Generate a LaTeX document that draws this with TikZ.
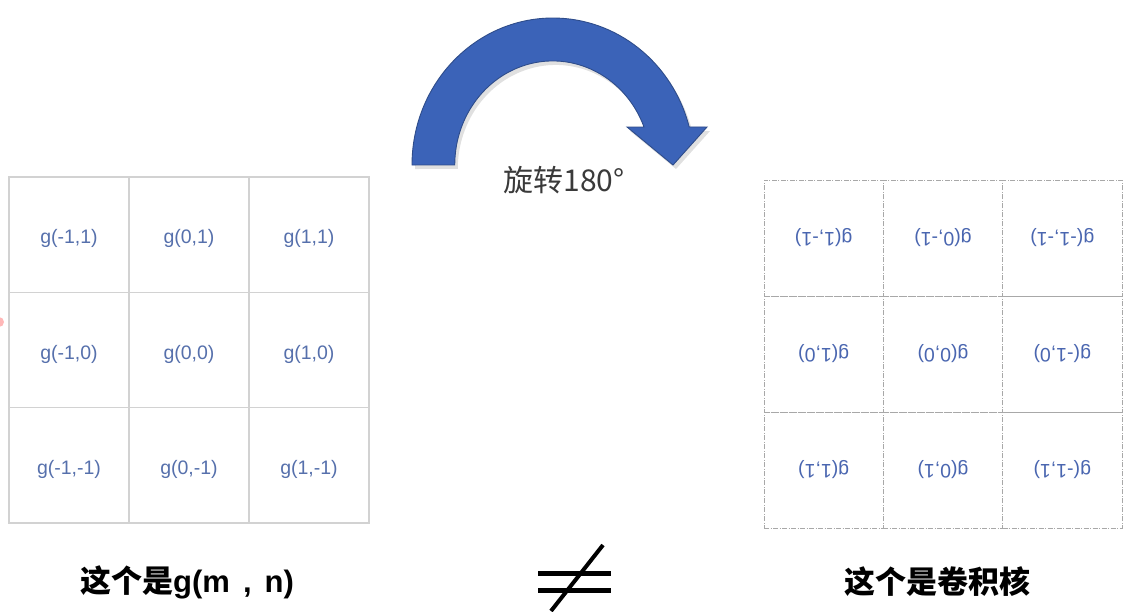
\documentclass[tikz,border=0pt]{standalone}
\usepackage{fontspec}
\setmainfont{Noto Sans CJK SC}
\newfontfamily\latinsans{Liberation Sans}
\definecolor{gridgray}{HTML}{D2D2D2}
\definecolor{dashgray}{HTML}{A8A8A8}
\definecolor{gtext}{HTML}{5670AC}
\definecolor{rtext}{HTML}{4A66B0}
\definecolor{arrowblue}{HTML}{3B63B8}
\definecolor{arrowedge}{HTML}{2E4C8A}
\definecolor{captext}{HTML}{3A3A3A}
\begin{document}
\begin{tikzpicture}[x=1pt,y=-1pt,
  lcell/.style={draw=gridgray, line width=1.2pt, minimum width=120pt, minimum height=115.3pt,
    inner sep=0pt},
  ltext/.style={inner sep=0pt, text=gtext, font=\latinsans\fontsize{19.5}{22}\selectfont, yshift=-4pt},
  rcell/.style={draw=dashgray, line width=0.8pt, dash pattern=on 5pt off 1.5pt on 1pt off 1.5pt,
    minimum width=119.3pt, minimum height=116pt, inner sep=0pt, text=rtext,
    font=\latinsans\fontsize{19.5}{22}\selectfont, rotate=180},
  bottomlabel/.style={anchor=west, inner sep=0pt, text=black, font=\bfseries\fontsize{31}{34}\selectfont}
]
\useasboundingbox (0,0) rectangle (1134,611);
\fill[white] (0,0) rectangle (1134,611);

% faint red mark at the left edge
\fill[red!55, opacity=0.5] (-1,322) circle (5);

% rotation arrow (shadow, then shape)
\fill[black, opacity=0.12, shift={(3,4)}]
  (412,165) arc[start angle=180, end angle=345, x radius=141, y radius=147]
  -- (707,127) -- (673,165) -- (627,127) -- (644,127)
  arc[start angle=338.6, end angle=180, x radius=98, y radius=104] -- cycle;
\filldraw[fill=arrowblue, draw=arrowedge, line width=0.9pt, line join=miter]
  (412,165) arc[start angle=180, end angle=345, x radius=141, y radius=147]
  -- (707,127) -- (673,165) -- (627,127) -- (644,127)
  arc[start angle=338.6, end angle=180, x radius=98, y radius=104] -- cycle;
\node[text=captext, font=\fontsize{30}{34}\selectfont, inner sep=0pt] (rot) at (564,180) {旋转180°};

% left grid g(m,n)
\node[lcell] (lA1) at (69,234.7) {};
\node[lcell] (lA2) at (189,234.7) {};
\node[lcell] (lA3) at (309,234.7) {};
\node[lcell] (lB1) at (69,350) {};
\node[lcell] (lB2) at (189,350) {};
\node[lcell] (lB3) at (309,350) {};
\node[lcell] (lC1) at (69,465.3) {};
\node[lcell] (lC2) at (189,465.3) {};
\node[lcell] (lC3) at (309,465.3) {};
\node[ltext] (tA1) at (lA1) {g(-1,1)};
\node[ltext] (tA2) at (lA2) {g(0,1)};
\node[ltext] (tA3) at (lA3) {g(1,1)};
\node[ltext] (tB1) at (lB1) {g(-1,0)};
\node[ltext] (tB2) at (lB2) {g(0,0)};
\node[ltext] (tB3) at (lB3) {g(1,0)};
\node[ltext] (tC1) at (lC1) {g(-1,-1)};
\node[ltext] (tC2) at (lC2) {g(0,-1)};
\node[ltext] (tC3) at (lC3) {g(1,-1)};

% right grid (kernel, rotated 180 degrees)
\node[rcell] (rA1) at (823.7,238) {g(1,-1)};
\node[rcell] (rA2) at (943,238) {g(0,-1)};
\node[rcell] (rA3) at (1062.3,238) {g(-1,-1)};
\node[rcell] (rB1) at (823.7,354) {g(1,0)};
\node[rcell] (rB2) at (943,354) {g(0,0)};
\node[rcell] (rB3) at (1062.3,354) {g(-1,0)};
\node[rcell] (rC1) at (823.7,470) {g(1,1)};
\node[rcell] (rC2) at (943,470) {g(0,1)};
\node[rcell] (rC3) at (1062.3,470) {g(-1,1)};

% bottom labels
\node[bottomlabel] (capL) at (80,582) {这个是{\latinsans g(m\hspace{13pt},\hspace{13pt}n)}};
\node[bottomlabel] (capR) at (844,582) {这个是卷积核};

% not-equal sign
\draw[line width=5pt] (538,573) -- (611,573);
\draw[line width=5pt] (538,590) -- (611,590);
\draw[line width=4pt] (603,545) -- (551,611);
\end{tikzpicture}
\end{document}
